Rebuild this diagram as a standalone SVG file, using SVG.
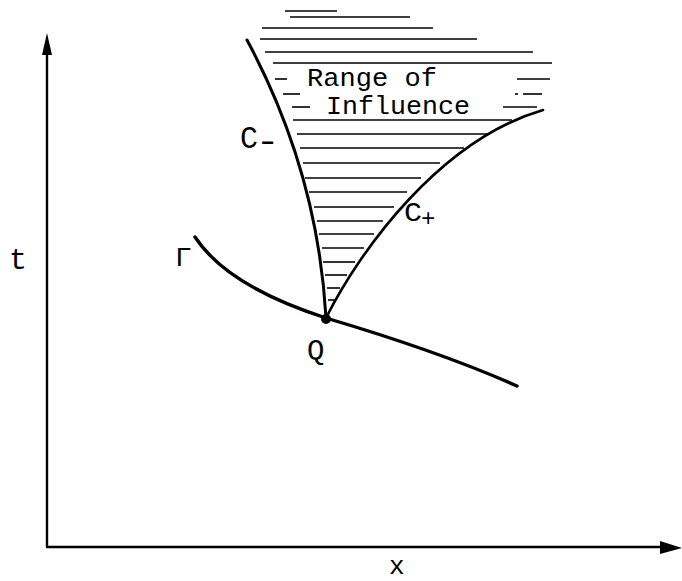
<svg xmlns="http://www.w3.org/2000/svg" width="682" height="581" viewBox="0 0 682 581">
<style>
.lbl{font-family:"Liberation Mono","DejaVu Sans Mono",monospace;fill:#000}
.h{stroke:#000;stroke-width:1.6;fill:none}
.cv{stroke:#000;fill:none;stroke-linecap:round}
</style>
<rect width="682" height="581" fill="#fff"/>
<g id="axes">
<line x1="47" y1="547" x2="47" y2="50" stroke="#000" stroke-width="2.4"/>
<polygon points="47,33 52,55 42,55" fill="#000"/>
<line x1="46" y1="547" x2="664" y2="547" stroke="#000" stroke-width="2.4"/>
<polygon points="682,548 660,541 660,554" fill="#000"/>
</g>
<g id="hatching">
<line class="h" x1="285" y1="11" x2="337" y2="11"/>
<line class="h" x1="290" y1="17" x2="410" y2="17"/>
<line class="h" x1="262" y1="28" x2="433" y2="28"/>
<line class="h" x1="260" y1="39" x2="477" y2="39"/>
<line class="h" x1="265" y1="52" x2="533" y2="52"/>
<line class="h" x1="273" y1="63" x2="552" y2="63"/>
<line class="h" x1="275" y1="79" x2="287" y2="79"/>
<line class="h" x1="517" y1="79" x2="550" y2="79"/>
<line class="h" x1="283" y1="94" x2="300" y2="94"/>
<line class="h" x1="515" y1="94" x2="518" y2="94"/>
<line class="h" x1="523" y1="94" x2="542" y2="94"/>
<line class="h" x1="292" y1="107" x2="310" y2="107"/>
<line class="h" x1="503" y1="107" x2="537" y2="107"/>
<line class="h" x1="293" y1="120" x2="512" y2="120"/>
<line class="h" x1="297" y1="134" x2="490" y2="134"/>
<line class="h" x1="300" y1="148" x2="464" y2="148"/>
<line class="h" x1="303" y1="163" x2="440" y2="163"/>
<line class="h" x1="305" y1="178" x2="421" y2="178"/>
<line class="h" x1="309" y1="192" x2="407" y2="192"/>
<line class="h" x1="314" y1="207" x2="394" y2="207"/>
<line class="h" x1="317" y1="221" x2="383" y2="221"/>
<line class="h" x1="319" y1="234" x2="374" y2="234"/>
<line class="h" x1="322" y1="248" x2="364" y2="248"/>
<line class="h" x1="323" y1="262" x2="355" y2="262"/>
<line class="h" x1="325" y1="275" x2="347" y2="275"/>
<line class="h" x1="327" y1="288" x2="340" y2="288"/>
<line class="h" x1="328" y1="300" x2="335" y2="300"/>
</g>
<g id="curves">
<path id="c-minus" class="cv" stroke-width="3" d="M247,40 C290,120 320,210 326,318"/>
<path id="c-plus" class="cv" stroke-width="2.6" d="M326,318 C360,250 440,140 543,110"/>
<path id="gamma" class="cv" stroke-width="3.4" d="M195,237 C220,275 270,300 326,318 C400,340 470,365 517,386"/>
<circle id="Q-point" cx="326" cy="319" r="5" fill="#000"/>
</g>
<g id="labels">
<text class="lbl" x="307" y="86" font-size="26" textLength="130" lengthAdjust="spacingAndGlyphs">Range of</text>
<text class="lbl" x="326" y="114" font-size="26" textLength="144" lengthAdjust="spacingAndGlyphs">Influence</text>
<text class="lbl" x="240" y="148" font-size="31" textLength="18" lengthAdjust="spacingAndGlyphs">C</text>
<text class="lbl" x="261" y="150" font-size="22" font-weight="bold">−</text>
<text class="lbl" x="404" y="221" font-size="28" textLength="18" lengthAdjust="spacingAndGlyphs">C</text>
<text class="lbl" x="421" y="226" font-size="24">+</text>
<text class="lbl" x="175" y="266" font-size="28">Γ</text>
<text class="lbl" x="307" y="360" font-size="29">Q</text>
<text class="lbl" x="9" y="269" font-size="30">t</text>
<text class="lbl" x="389" y="574" font-size="26">x</text>
</g>
</svg>
